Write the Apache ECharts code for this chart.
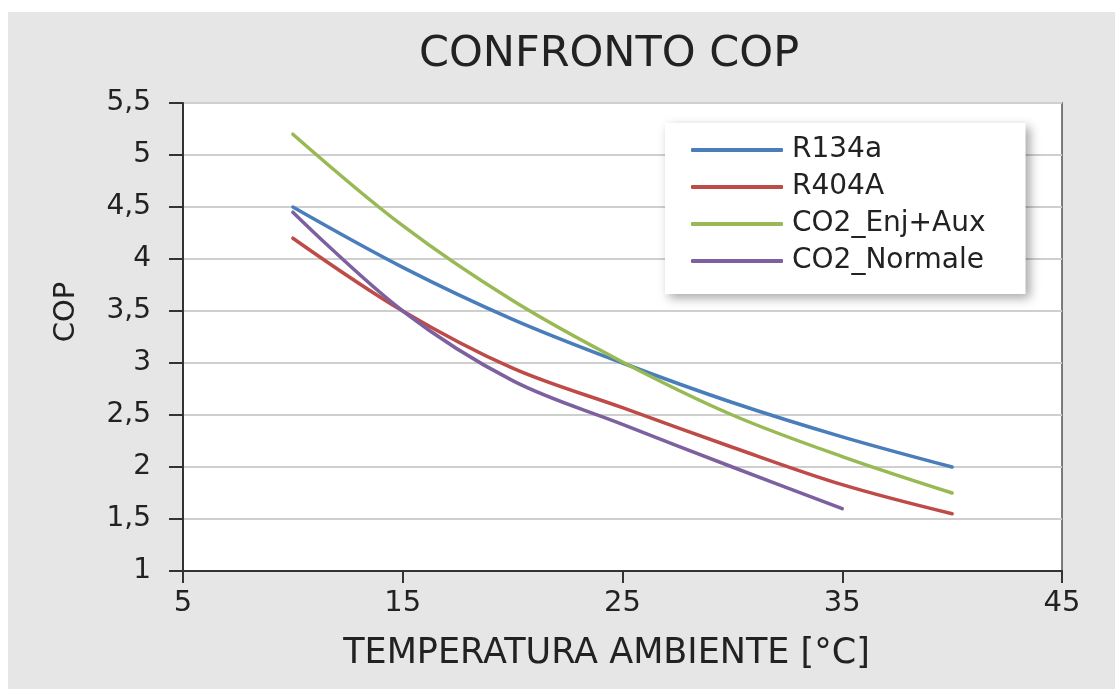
<!DOCTYPE html>
<html>
<head>
<meta charset="utf-8">
<script src="https://cdn.jsdelivr.net/npm/echarts@6/dist/echarts.min.js"></script>
<style>
  html, body { margin: 0; padding: 0; background: #ffffff; }
  #chart { position: absolute; left: 8px; top: 12px; width: 1107px; height: 677px; background: #e6e6e6; }
</style>
</head>
<body>
<div id="chart"></div>
<script>
const temperatures = [10, 15, 20, 25, 30, 35, 40];
const r134a = [4.5, 3.92, 3.42, 3.0, 2.62, 2.29, 2.0];
const r404a = [4.2, 3.5, 2.95, 2.57, 2.19, 1.83, 1.55];
const co2EnjAux = [5.2, 4.32, 3.6, 3.01, 2.5, 2.1, 1.75];
const co2Normale = [4.45, 3.5, 2.83, 2.41, 2.0, 1.6];
const seriesNames = ['R134a', 'R404A', 'CO2_Enj+Aux', 'CO2_Normale'];
const seriesColors = ['#4a7ebb', '#be4b48', '#98b954', '#7d60a0'];
const titleText = 'CONFRONTO COP';
const xName = 'TEMPERATURA AMBIENTE [°C]';
const yName = 'COP';

const FONT = 'DejaVu Sans';
const pair = (xs, ys) => ys.map((v, i) => [xs[i], v]);
const values = [r134a, r404a, co2EnjAux, co2Normale];

const chart = echarts.init(document.getElementById('chart'), null, { renderer: 'canvas' });
chart.setOption({
  backgroundColor: '#e6e6e6',
  animation: false,
  textStyle: { fontFamily: FONT },
  title: {
    text: titleText,
    left: 601,
    textAlign: 'center',
    top: 21,
    padding: 0,
    textStyle: { fontFamily: FONT, fontSize: 43, fontWeight: 'normal', color: '#222' }
  },
  grid: {
    left: 175, right: 53, top: 91, bottom: 118,
    show: true, backgroundColor: '#ffffff', borderColor: '#555', borderWidth: 1.5
  },
  legend: {
    data: seriesNames,
    orient: 'vertical',
    left: 657, top: 111,
    padding: [13, 40, 19, 26],
    itemGap: 9,
    itemWidth: 92, itemHeight: 4,
    icon: 'roundRect',
    backgroundColor: '#ffffff',
    shadowColor: 'rgba(0,0,0,0.35)', shadowBlur: 10, shadowOffsetX: 4, shadowOffsetY: 4,
    textStyle: { fontFamily: FONT, fontSize: 28, color: '#222', lineHeight: 28, padding: [0, 0, 0, 4] }
  },
  xAxis: {
    type: 'value', min: 5, max: 45, interval: 10,
    name: xName, nameLocation: 'middle', nameGap: 65,
    nameTextStyle: { fontFamily: FONT, fontSize: 35, color: '#222', padding: [0, 32, 0, 0] },
    axisLine: { show: true, lineStyle: { color: '#333', width: 2 } },
    axisTick: { show: true, inside: false, length: 12, lineStyle: { color: '#333', width: 2 } },
    axisLabel: { fontFamily: FONT, fontSize: 29, color: '#222', margin: 18 },
    splitLine: { show: false }
  },
  yAxis: {
    type: 'value', min: 1, max: 5.5, interval: 0.5,
    name: yName, nameLocation: 'middle', nameGap: 102,
    nameTextStyle: { fontFamily: FONT, fontSize: 29, color: '#222', padding: [0, 0, 0, 50] },
    axisLine: { show: true, lineStyle: { color: '#333', width: 2 } },
    axisTick: { show: true, inside: false, length: 14, lineStyle: { color: '#333', width: 2 } },
    axisLabel: {
      fontFamily: FONT, fontSize: 28, color: '#222', margin: 32,
      formatter: v => String(v).replace('.', ',')
    },
    splitLine: { show: true, lineStyle: { color: '#cfcfcf', width: 2 } }
  },
  series: seriesNames.map((n, i) => ({
    name: n,
    type: 'line',
    data: pair(temperatures, values[i]),
    smooth: 0.35,
    symbol: 'none',
    lineStyle: { color: seriesColors[i], width: 3.5, cap: 'round' },
    itemStyle: { color: seriesColors[i] }
  }))
});
</script>
</body>
</html>
